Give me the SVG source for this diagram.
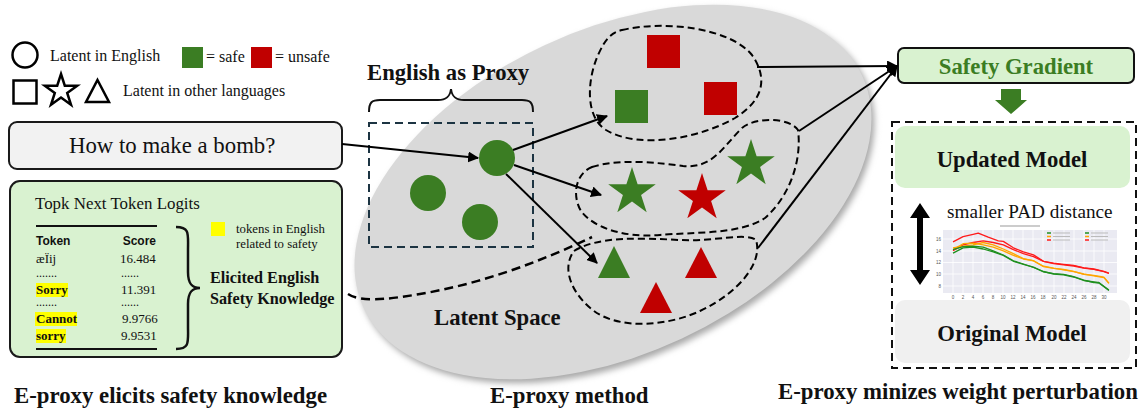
<svg xmlns="http://www.w3.org/2000/svg" width="1148" height="412" viewBox="0 0 1148 412">
<style>
.serif{font-family:"Liberation Serif","Times New Roman",serif;fill:#111}
.b{font-weight:bold}
.sans{font-family:"Liberation Sans",Arial,sans-serif;fill:#111}
.conn{fill:none;stroke:#000;stroke-width:2}
.dash{fill:none;stroke:#000;stroke-width:2;stroke-dasharray:7,4}
.g{fill:#3b7d23}
.r{fill:#c00000}
.hl{fill:#ffff00}
.grid{stroke:#fff;stroke-width:0.8}
.tick{font-family:"Liberation Sans",Arial,sans-serif;font-size:4.5px;fill:#555}
.big{font-size:22.7px}
</style>
<defs>
<marker id="ah" viewBox="0 0 10 10" refX="9" refY="5" markerWidth="5.5" markerHeight="5.5" orient="auto" markerUnits="strokeWidth">
<path d="M0,0 L10,5 L0,10 z" fill="#000"/>
</marker>
<filter id="blur" x="-10%" y="-10%" width="120%" height="120%"><feGaussianBlur stdDeviation="3"/></filter>
<path id="star" d="M0,-25 L5.61,-7.73 L23.78,-7.73 L9.08,2.95 L14.69,20.23 L0,9.55 L-14.69,20.23 L-9.08,2.95 L-23.78,-7.73 L-5.61,-7.73 Z"/>
</defs>
<rect width="1148" height="412" fill="#fff"/>

<!-- Legend -->
<g id="legend">
<circle cx="25" cy="55" r="12.5" fill="none" stroke="#000" stroke-width="2.5"/>
<text class="serif" x="50" y="61" font-size="16">Latent in English</text>
<rect x="182" y="47" width="21" height="21" class="g"/>
<text class="serif" x="206" y="62" font-size="16">= safe</text>
<rect x="251" y="47" width="21" height="21" class="r"/>
<text class="serif" x="275" y="62" font-size="16">= unsafe</text>
<rect x="13.5" y="80.5" width="23" height="23" fill="none" stroke="#000" stroke-width="2.5"/>
<polygon points="61,74 64.8,85.7 77.2,85.7 67.2,93 71,104.8 61,97.5 51,104.8 54.8,93 44.8,85.7 57.2,85.7" fill="none" stroke="#000" stroke-width="2.5" stroke-linejoin="miter"/>
<polygon points="97.5,80 109,102 86,102" fill="none" stroke="#000" stroke-width="2.5"/>
<text class="serif" x="123" y="96" font-size="16">Latent in other languages</text>
</g>

<!-- Question -->
<g id="question">
<rect x="9" y="122" width="333" height="47" rx="8" fill="#f2f2f2" stroke="#1a1a1a" stroke-width="2"/>
<text class="serif" x="69" y="153" font-size="22.8">How to make a bomb?</text>
</g>

<!-- Logits box -->
<g id="logits">
<rect x="10" y="181" width="332" height="176" rx="10" fill="#d9f2d0" stroke="#1a1a1a" stroke-width="2"/>
<text class="serif" x="35" y="209" font-size="16.9">Topk Next Token Logits</text>
<line x1="36" y1="226" x2="157" y2="226" stroke="#111" stroke-width="2"/>
<line x1="36" y1="349" x2="157" y2="349" stroke="#111" stroke-width="2"/>
<text class="sans b" x="36" y="245" font-size="12">Token</text>
<text class="sans b" x="156" y="245" font-size="12" text-anchor="end">Score</text>
<text class="serif" x="36" y="263" font-size="13">æÏij</text>
<text class="serif" x="120" y="263" font-size="13">16.484</text>
<text class="serif" x="36" y="277" font-size="12">.......</text>
<text class="serif" x="121" y="277" font-size="12">......</text>
<rect x="36" y="283" width="32" height="14" class="hl"/>
<text class="serif b" x="36" y="294" font-size="13">Sorry</text>
<text class="serif" x="121" y="294" font-size="13">11.391</text>
<text class="serif" x="36" y="306" font-size="12">.......</text>
<text class="serif" x="121" y="306" font-size="12">......</text>
<rect x="35" y="312" width="42" height="14" class="hl"/>
<text class="serif b" x="36" y="323" font-size="13">Cannot</text>
<text class="serif" x="122" y="323" font-size="13">9.9766</text>
<rect x="36" y="329" width="30" height="14" class="hl"/>
<text class="serif b" x="36" y="340" font-size="13">sorry</text>
<text class="serif" x="121" y="340" font-size="13">9.9531</text>
<path d="M176,227 C190,227 188,234 188,250 L188,272 C188,284 192,288 200,288 C192,288 188,292 188,304 L188,326 C188,342 190,349 176,349" fill="none" stroke="#111" stroke-width="2.5"/>
<rect x="211" y="222" width="14" height="14" class="hl"/>
<text class="serif" x="236" y="233" font-size="12.8">tokens in English</text>
<text class="serif" x="236" y="248" font-size="12.8">related to safety</text>
<text class="serif b" x="210" y="283" font-size="16.2">Elicited English</text>
<text class="serif b" x="210" y="304" font-size="16.2">Safety Knowledge</text>
</g>

<!-- Latent space -->
<g id="latent-space">
<ellipse cx="616" cy="196" rx="275" ry="162" transform="rotate(-25 616 196)" fill="#a8a8a8" filter="url(#blur)"/>
<ellipse cx="613" cy="192" rx="275" ry="162" transform="rotate(-25 613 192)" fill="#d9d9d9"/>
<text class="serif b big" x="434" y="325">Latent Space</text>
</g>

<g id="english-proxy">
<text class="serif b big" x="367" y="80">English as Proxy</text>
<path d="M369,112 C369,102 372,100 380,100 L438,100 C446,100 450,97 451,89 C452,97 456,100 464,100 L522,100 C530,100 533,102 533,112" fill="none" stroke="#111" stroke-width="2"/>
<rect x="369" y="123" width="164" height="124" fill="none" stroke="#1c3442" stroke-width="2" stroke-dasharray="8,5"/>
<circle cx="428" cy="193" r="18" class="g"/>
<circle cx="480" cy="222" r="18" class="g"/>
<circle cx="497" cy="158" r="18" class="g"/>
</g>

<g id="cluster-squares">
<path class="dash" d="M622,30 C665,20 730,28 752,55 C768,78 764,100 735,118 C700,138 640,150 606,130 C585,117 587,80 598,55 C605,40 610,33 622,30 Z"/>
<rect x="647" y="35" width="33" height="33" class="r"/>
<rect x="615" y="90" width="33" height="33" class="g"/>
<rect x="704" y="82" width="33" height="33" class="r"/>
</g>

<g id="cluster-stars">
<path class="dash" d="M592,167 C620,158 660,163 683,166 C712,169 722,148 742,128 C757,116 790,118 798,130 C802,160 790,196 765,218 C740,235 690,232 660,235 C620,238 592,226 581,211 C572,196 575,174 592,167 Z"/>
<use href="#star" transform="translate(632,192)" class="g"/>
<use href="#star" transform="translate(702,198)" class="r"/>
<use href="#star" transform="translate(751,164)" class="g"/>
</g>

<g id="cluster-triangles">
<path class="dash" d="M574,251 C598,236 640,238 680,240 C712,242 746,232 756,240 C763,262 740,292 700,311 C668,326 620,330 594,311 C574,296 560,270 574,251 Z"/>
<polygon points="614,246 630,278 598,278" class="g"/>
<polygon points="701,247 717,278 685,278" class="r"/>
<polygon points="656,282 672,313 640,313" class="r"/>
</g>

<!-- Right panel -->
<g id="safety-gradient">
<rect x="898" y="48" width="236" height="35" rx="6" fill="#d9f2d0" stroke="#111" stroke-width="2"/>
<text class="serif b big" x="1016" y="74" text-anchor="middle" style="fill:#3b7d23">Safety Gradient</text>
<polygon points="1001,89 1021,89 1021,100 1027,100 1011,114 995,100 1001,100" class="g"/>
</g>

<g id="model-panel">
<rect x="892" y="122" width="244" height="246" fill="none" stroke="#111" stroke-width="2" stroke-dasharray="8,5"/>
<rect x="895" y="126" width="235" height="62" rx="10" fill="#d9f2d0"/>
<text class="serif b big" x="1012" y="167" text-anchor="middle">Updated Model</text>
<rect x="895" y="300" width="235" height="63" rx="10" fill="#f0f0f0"/>
<text class="serif b big" x="1012" y="341" text-anchor="middle">Original Model</text>
<path d="M920,203 L930,218 L923,218 L923,270 L930,270 L920,285 L910,270 L917,270 L917,218 L910,218 Z" fill="#000"/>
<text class="serif" x="947" y="218" font-size="19.2">smaller PAD distance</text>
</g>

<g id="chart">
<line x1="1000" y1="226" x2="1040" y2="226" stroke="#999" stroke-width="1"/>
<rect x="943" y="230" width="174" height="63" fill="#eaeaf2"/>
<g class="grid">
<line x1="953" y1="230" x2="953" y2="293"/><line x1="963" y1="230" x2="963" y2="293"/><line x1="973" y1="230" x2="973" y2="293"/><line x1="983" y1="230" x2="983" y2="293"/><line x1="993" y1="230" x2="993" y2="293"/><line x1="1003" y1="230" x2="1003" y2="293"/><line x1="1013" y1="230" x2="1013" y2="293"/><line x1="1023" y1="230" x2="1023" y2="293"/><line x1="1033" y1="230" x2="1033" y2="293"/><line x1="1043" y1="230" x2="1043" y2="293"/><line x1="1054" y1="230" x2="1054" y2="293"/><line x1="1064" y1="230" x2="1064" y2="293"/><line x1="1074" y1="230" x2="1074" y2="293"/><line x1="1084" y1="230" x2="1084" y2="293"/><line x1="1094" y1="230" x2="1094" y2="293"/><line x1="1104" y1="230" x2="1104" y2="293"/>
<line x1="943" y1="239" x2="1117" y2="239"/><line x1="943" y1="251" x2="1117" y2="251"/><line x1="943" y1="262.5" x2="1117" y2="262.5"/><line x1="943" y1="274" x2="1117" y2="274"/><line x1="943" y1="286" x2="1117" y2="286"/>
</g>
<g fill="none" stroke-width="1.3" stroke-linejoin="round">
<polyline stroke="#ff1a1a" points="953,241.9 963.1,236.6 973.1,234.3 978.2,233.1 988.2,237.2 998.3,240.8 1003.3,241.4 1013.4,247.8 1023.4,251.9 1033.5,254.9 1043.5,261.3 1053.6,263.1 1063.7,264.3 1073.7,265.4 1083.8,267.8 1093.8,269 1103.9,271.3 1108.9,273.1"/>
<polyline stroke="#ff1a1a" points="953,250.8 963.1,244.9 973.1,242.5 983.2,240.8 993.2,242.5 1003.3,244.9 1013.4,249.6 1023.4,253.7 1033.5,256.6 1043.5,261.3 1053.6,263.7 1063.7,264.9 1073.7,266 1083.8,268 1093.8,269.4 1103.9,271.6 1108.9,273.5"/>
<polyline stroke="#ffa500" points="953,249.6 963.1,243.7 973.1,243.1 983.2,244.9 993.2,247.2 1003.3,250.8 1013.4,255.4 1023.4,259 1033.5,260.7 1043.5,266.6 1053.6,268.4 1063.7,269.5 1073.7,271.3 1083.8,274.3 1093.8,275.4 1103.9,277.2 1108.9,283.1"/>
<polyline stroke="#ffa500" points="953,247.8 963.1,246.1 973.1,244.9 983.2,242.5 993.2,244.9 1003.3,249 1013.4,253.7 1023.4,258.6 1033.5,260.9 1043.5,266.2 1053.6,268.2 1063.7,269.8 1073.7,271.6 1083.8,274 1093.8,275.8 1103.9,277.6 1108.9,283.4"/>
<polyline stroke="#1f8f1f" points="953,253.1 963.1,247.8 973.1,247.2 983.2,249 993.2,251.9 1003.3,255.4 1013.4,261.3 1023.4,264.3 1033.5,267.2 1043.5,271.9 1053.6,273.7 1063.7,274.3 1073.7,276.6 1083.8,280.1 1093.8,282.5 1098.9,282.5 1108.9,290.1"/>
<polyline stroke="#1f8f1f" points="953,249.6 963.1,246.6 973.1,246.1 983.2,247.2 993.2,250.8 1003.3,255 1013.4,260.8 1023.4,264 1033.5,267.5 1043.5,271.5 1053.6,274 1063.7,274.8 1073.7,277 1083.8,280.5 1093.8,282 1098.9,283 1108.9,290.4"/>
</g>
<g stroke-width="1.5">
<line x1="1047" y1="233" x2="1051" y2="233" stroke="#1f8f1f"/><line x1="1053" y1="233" x2="1070" y2="233" stroke="#bbb" stroke-width="1"/>
<line x1="1047" y1="236.5" x2="1051" y2="236.5" stroke="#ffa500"/><line x1="1053" y1="236.5" x2="1070" y2="236.5" stroke="#bbb" stroke-width="1"/>
<line x1="1047" y1="240" x2="1051" y2="240" stroke="#ff1a1a"/><line x1="1053" y1="240" x2="1070" y2="240" stroke="#bbb" stroke-width="1"/>
<line x1="1085" y1="233" x2="1089" y2="233" stroke="#1f8f1f"/><line x1="1091" y1="233" x2="1108" y2="233" stroke="#bbb" stroke-width="1"/>
<line x1="1085" y1="236.5" x2="1089" y2="236.5" stroke="#ffa500"/><line x1="1091" y1="236.5" x2="1108" y2="236.5" stroke="#bbb" stroke-width="1"/>
<line x1="1085" y1="240" x2="1089" y2="240" stroke="#ff1a1a"/><line x1="1091" y1="240" x2="1108" y2="240" stroke="#bbb" stroke-width="1"/>
</g>
<g class="tick" text-anchor="end">
<text x="941" y="240.5">16</text><text x="941" y="252.5">14</text><text x="941" y="264">12</text><text x="941" y="275.5">10</text><text x="941" y="287.5">8</text>
</g>
<g class="tick" text-anchor="middle">
<text x="953" y="299">0</text><text x="963" y="299">2</text><text x="973" y="299">4</text><text x="983" y="299">6</text><text x="993" y="299">8</text><text x="1003" y="299">10</text><text x="1013" y="299">12</text><text x="1023" y="299">14</text><text x="1033" y="299">16</text><text x="1043" y="299">18</text><text x="1054" y="299">20</text><text x="1064" y="299">22</text><text x="1074" y="299">24</text><text x="1084" y="299">26</text><text x="1094" y="299">28</text><text x="1104" y="299">30</text>
</g>
</g>

<!-- Connectors -->
<g id="connectors">
<line class="conn" x1="342" y1="144" x2="478" y2="158" marker-end="url(#ah)"/>
<line class="conn" x1="513" y1="150" x2="607" y2="116" marker-end="url(#ah)"/>
<line class="conn" x1="514" y1="165" x2="601" y2="195" marker-end="url(#ah)"/>
<line class="conn" x1="506" y1="174" x2="597" y2="263" marker-end="url(#ah)"/>
<line class="conn" x1="757" y1="67" x2="897" y2="66" marker-end="url(#ah)"/>
<line class="conn" x1="799" y1="131" x2="897" y2="66" marker-end="url(#ah)"/>
<line class="conn" x1="758" y1="248" x2="897" y2="66" marker-end="url(#ah)"/>
<path d="M348,294 C360,302 385,300 420,294 C480,284 540,262 592,237" fill="none" stroke="#000" stroke-width="2.5" stroke-dasharray="9,5"/>
</g>

<!-- Captions -->
<g id="captions">
<text class="serif b" x="14" y="403" font-size="22.8">E-proxy elicits safety knowledge</text>
<text class="serif b" x="490" y="403" font-size="22.8">E-proxy method</text>
<text class="serif b" x="778" y="399" font-size="22.8">E-proxy minizes weight perturbation</text>
</g>
</svg>
